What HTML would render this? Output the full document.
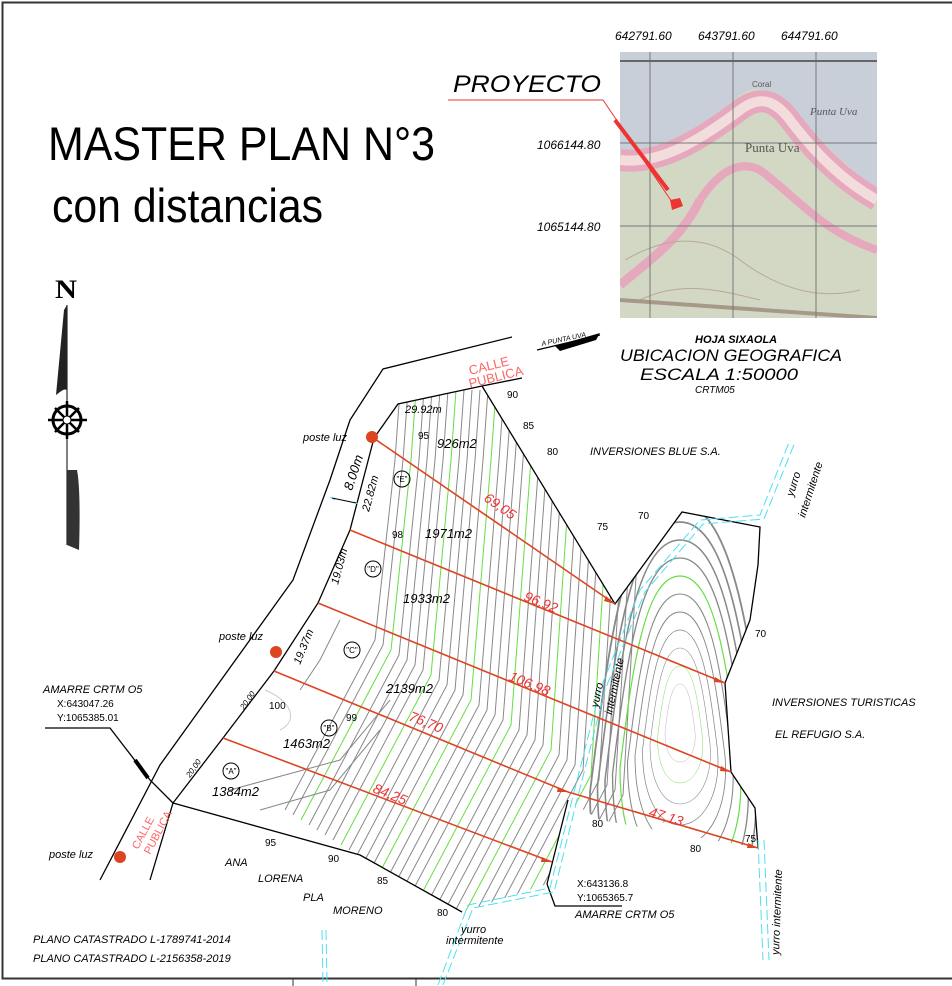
<!DOCTYPE html>
<html><head><meta charset="utf-8"><style>
html,body{margin:0;padding:0;background:#fff}
svg{display:block}
text{font-family:"Liberation Sans",sans-serif}
.i{font-style:italic}
</style></head><body>
<svg width="952" height="986" viewBox="0 0 952 986" xmlns="http://www.w3.org/2000/svg">
<defs>
<clipPath id="prop"><polygon points="374,438 398,404 482,386 615,604 682,512 760,527 758,565 750,620 725,683 731,772 755,808 758,848 600,820 568,800 547,884 462,912 437,898 360,855 173,803 223,738 274,671 318,603 350,530"/></clipPath>
<clipPath id="mapc"><rect x="620" y="52" width="257" height="266"/></clipPath>
<path id="td" d="M0,-120 C30,-120 40,-40 50,40 C55,100 30,140 0,140 C-30,140 -50,100 -50,40 C-40,-40 -30,-120 0,-120Z" fill="none"/>
</defs>
<rect x="2.5" y="2.5" width="960" height="976" fill="none" stroke="#333" stroke-width="2"/>
<line x1="293" y1="979" x2="293" y2="986" stroke="#333"/>
<line x1="416" y1="979" x2="416" y2="986" stroke="#333"/>

<text x="48" y="160" font-size="47" textLength="387" lengthAdjust="spacingAndGlyphs">MASTER PLAN N°3</text>
<text x="52" y="222" font-size="47" textLength="271" lengthAdjust="spacingAndGlyphs">con distancias</text>

<text x="55" y="298" style="font-family:'Liberation Serif',serif" font-weight="bold" font-size="26" textLength="22" lengthAdjust="spacingAndGlyphs">N</text>
<line x1="67" y1="305" x2="67" y2="545" stroke="#000" stroke-width="1"/>
<path d="M67,305 L67,390 C64,388 60,392 56,395 L64,310Z" fill="#222"/>
<path d="M67,470 L67,545 L79,550 C80,520 80,485 77,470Z" fill="#333"/>
<circle cx="67" cy="420" r="14" fill="none" stroke="#000" stroke-width="3"/>
<path d="M48,420 H87 M67,401 V439 M55,408 L79,432 M79,408 L55,432" stroke="#000" stroke-width="2.5"/>
<circle cx="67" cy="420" r="4" fill="#fff" stroke="#000"/>

<g clip-path="url(#mapc)">
<rect x="620" y="52" width="257" height="266" fill="#d3d8c4"/>
<path d="M620,52 H877 V190 C840,160 800,120 780,100 C770,90 755,85 745,92 C720,110 700,130 680,140 C660,150 640,150 620,150Z" fill="#c9cfd8"/>
<path d="M620,160 C660,165 700,140 740,110 C760,95 775,100 790,120 C820,160 850,185 877,200" fill="none" stroke="#e6a8bc" stroke-width="22"/>
<path d="M620,160 C660,165 700,140 740,110 C760,95 775,100 790,120 C820,160 850,185 877,200" fill="none" stroke="#f2dcdc" stroke-width="10"/>
<path d="M700,200 C720,170 740,160 760,170 C800,200 820,230 877,250" fill="none" stroke="#e6a8bc" stroke-width="8"/>
<path d="M700,200 C680,240 650,260 620,285" fill="none" stroke="#e6a8bc" stroke-width="9"/>
<path d="M625,260 C660,240 700,230 740,260 C780,290 820,300 860,290 M640,300 C680,280 720,290 760,300" fill="none" stroke="#b8a898" stroke-width="1"/>
<path d="M620,300 L877,318" stroke="#8a7060" stroke-width="4" opacity="0.6"/>
<g stroke="#777" stroke-width="1">
<line x1="650" y1="52" x2="650" y2="318"/><line x1="733" y1="52" x2="733" y2="318"/><line x1="816" y1="52" x2="816" y2="318"/>
<line x1="620" y1="143" x2="877" y2="143"/><line x1="620" y1="226" x2="877" y2="226"/>
</g>
<line x1="620" y1="61" x2="877" y2="61" stroke="#666" stroke-width="2"/>
<text x="745" y="152" style="font-family:'Liberation Serif',serif" font-size="13" fill="#555">Punta Uva</text>
<text x="810" y="115" style="font-family:'Liberation Serif',serif" font-size="11" fill="#555" class="i">Punta Uva</text>
<text x="752" y="87" font-size="8" fill="#555">Coral</text>
</g>
<text x="615" y="40" font-size="12" class="i">642791.60</text>
<text x="698" y="40" font-size="12" class="i">643791.60</text>
<text x="781" y="40" font-size="12" class="i">644791.60</text>
<text x="537" y="149" font-size="12" class="i">1066144.80</text>
<text x="537" y="231" font-size="12" class="i">1065144.80</text>
<text x="453" y="92" font-size="24" class="i" textLength="148" lengthAdjust="spacingAndGlyphs">PROYECTO</text>
<polyline points="448,100 603,100 672,202" fill="none" stroke="#e33" stroke-width="1"/>
<line x1="615" y1="120" x2="668" y2="190" stroke="#e33" stroke-width="4"/>
<path d="M670,200 L680,198 L683,206 L672,210Z" fill="#e33"/>
<text x="695" y="343" font-size="11" class="i" font-weight="bold">HOJA SIXAOLA</text>
<text x="620" y="361" font-size="17" class="i" textLength="222" lengthAdjust="spacingAndGlyphs">UBICACION GEOGRAFICA</text>
<text x="640" y="380" font-size="17" class="i" textLength="158" lengthAdjust="spacingAndGlyphs">ESCALA 1:50000</text>
<text x="695" y="393" font-size="10" class="i">CRTM05</text>

<g clip-path="url(#prop)" stroke="#888" stroke-width="1" fill="none">
<path d="M400,390 L395,460 L375,640 L285,810"/>
<path d="M408,390 L403,460 L383,645 L293,815"/>
<path d="M416,390 L411,460 L391,650 L301,820" stroke="#6d4"/>
<path d="M424,390 L419,460 L399,655 L309,825"/>
<path d="M432,390 L427,460 L407,660 L317,830"/>
<path d="M440,390 L435,460 L415,665 L325,835"/>
<path d="M448,390 L443,460 L423,670 L333,840"/>
<path d="M456,390 L451,460 L431,675 L341,845" stroke="#6d4"/>
<path d="M464,390 L459,460 L439,680 L349,850"/>
<path d="M472,390 L467,460 L447,685 L357,855"/>
<path d="M480,390 L475,460 L455,690 L365,860"/>
<path d="M488,390 L483,460 L463,695 L373,865"/>
<path d="M496,390 L491,460 L471,700 L381,870" stroke="#6d4"/>
<path d="M504,390 L499,460 L479,705 L389,875"/>
<path d="M512,390 L507,460 L487,710 L397,880"/>
<path d="M520,390 L515,460 L495,715 L405,885"/>
<path d="M528,390 L523,460 L503,720 L413,890"/>
<path d="M536,390 L531,460 L511,725 L421,895" stroke="#6d4"/>
<path d="M544,390 L539,460 L519,730 L429,900"/>
<path d="M552,390 L547,460 L527,735 L437,905"/>
<path d="M560,390 L555,460 L535,740 L445,910"/>
<path d="M568,390 L563,460 L543,745 L453,915"/>
<path d="M576,390 L571,460 L551,750 L461,920" stroke="#6d4"/>
<path d="M584,390 L579,460 L559,755 L469,925"/>
<path d="M592,390 L587,460 L567,760 L477,930"/>
<path d="M600,390 L595,460 L575,765 L485,935"/>
<path d="M608,390 L603,460 L583,770 L493,940"/>
<path d="M616,390 L611,460 L591,775 L501,945" stroke="#6d4"/>
<path d="M624,390 L619,460 L599,780 L509,950"/>
<path d="M632,390 L627,460 L607,785 L517,955"/>
<path d="M640,390 L635,460 L615,790 L525,960"/>
<path d="M648,390 L643,460 L623,795 L533,965"/>
<path d="M390,700 L340,760 L230,790"/>
<path d="M380,730 L330,790 L260,810"/>
<path d="M340,620 L320,660 L300,690"/>
<g transform="translate(680,720)">
<use href="#td" transform="scale(0.3)"/>
<use href="#td" transform="scale(0.45)" stroke="#6d4"/>
<use href="#td" transform="scale(0.6)"/>
<use href="#td" transform="scale(0.75)"/>
<use href="#td" transform="scale(0.9)"/>
<use href="#td" transform="scale(1.05)"/>
<use href="#td" transform="scale(1.2)" stroke="#6d4"/>
<use href="#td" transform="scale(1.35)"/>
<use href="#td" transform="scale(1.5)"/>
<use href="#td" transform="scale(1.65)"/>
<use href="#td" transform="scale(1.8)"/>
</g>
<path d="M265,690 C290,700 300,720 280,730" stroke="#ccc"/>
</g>

<g fill="none" stroke="#000" stroke-width="1.3">
<polyline points="512,337 383,369 350,420 330,480 293,580 160,765 100,880"/>
<polyline points="522,378 482,386 398,404 374,438 350,530 318,603 274,671 223,738 173,803 150,880"/>
<polyline points="482,386 615,604 682,512 760,527 758,565 750,620 725,683 731,772 755,808 758,848"/>
<polyline points="173,803 360,855 437,898 462,912"/>
<polyline points="547,884 568,800"/>
<polyline points="547,884 555,906 622,906"/>
<polyline points="45,728 110,728 150,780 173,803"/>
<line x1="135" y1="760" x2="148" y2="778" stroke-width="4"/>
<polyline points="537,350 600,335"/>
</g>
<path d="M555,346 L600,333 L596,340 L560,351Z" fill="#000"/>
<text x="542" y="346" font-size="7" class="i" transform="rotate(-12 542 346)">A PUNTA UVA</text>

<g fill="none" stroke="#4de0f0" stroke-width="1" stroke-dasharray="10,4">
<polyline points="438,985 468,905 550,888 572,800 600,690 640,590 700,520 760,515 790,440"/>
<polyline points="443,985 473,908 554,892 577,800 605,690 645,592 703,524 764,519 795,442"/>
<line x1="758" y1="840" x2="763" y2="960"/><line x1="764" y1="840" x2="769" y2="960"/>
<line x1="322" y1="930" x2="323" y2="985"/><line x1="326" y1="930" x2="327" y2="985"/>
<line x1="330" y1="497" x2="335" y2="500"/><line x1="354" y1="502" x2="358" y2="504"/>
</g>
<line x1="332" y1="498" x2="356" y2="503" stroke="#000"/>

<g stroke="#d42" stroke-width="1.6">
<line x1="372" y1="437" x2="615" y2="604"/>
<line x1="350" y1="530" x2="725" y2="683"/>
<line x1="318" y1="603" x2="731" y2="772"/>
<line x1="274" y1="671" x2="568" y2="792"/>
<line x1="568" y1="792" x2="758" y2="848"/>
<line x1="223" y1="738" x2="552" y2="862"/>
</g>
<g fill="#d42">
<circle cx="372" cy="437" r="6"/><circle cx="276" cy="652" r="6"/><circle cx="120" cy="857" r="6"/>
<path d="M615,604 l-9,-8 l-2,5Z M725,683 l-10,-6 l-1,5Z M731,772 l-10,-6 l-1,5Z M758,848 l-10,-5 l-1,5Z M552,862 l-10,-5 l-1,5Z M568,792 l-10,-5 l-1,5Z"/>
</g>
<g fill="#e33" class="i" font-size="14">
<text x="483" y="500" transform="rotate(35 483 500)">69,05</text>
<text x="523" y="600" transform="rotate(22 523 600)">96,92</text>
<text x="508" y="680" transform="rotate(22 508 680)">106,98</text>
<text x="408" y="720" transform="rotate(22 408 720)">76,70</text>
<text x="372" y="792" transform="rotate(22 372 792)">84,25</text>
<text x="648" y="816" transform="rotate(17 648 816)">47,13</text>
</g>
<text x="470" y="375" font-size="13" fill="#f66" transform="rotate(-14 470 375)">CALLE</text>
<text x="470" y="388" font-size="13" fill="#f66" transform="rotate(-14 470 388)">PUBLICA</text>
<text x="138" y="850" font-size="11" fill="#f66" transform="rotate(-62 138 850)">CALLE</text>
<text x="150" y="855" font-size="11" fill="#f66" transform="rotate(-62 150 855)">PUBLICA</text>

<g font-size="11" class="i">
<text x="303" y="441">poste  luz</text>
<text x="219" y="640">poste  luz</text>
<text x="49" y="858">poste  luz</text>
<text x="405" y="413">29.92m</text>
<text x="437" y="448" font-size="13">926m2</text>
<text x="425" y="538" font-size="13">1971m2</text>
<text x="403" y="603" font-size="13">1933m2</text>
<text x="386" y="693" font-size="13">2139m2</text>
<text x="283" y="748" font-size="13">1463m2</text>
<text x="212" y="796" font-size="13">1384m2</text>
<text x="352" y="491" font-size="13" transform="rotate(-72 352 491)">8.00m</text>
<text x="369" y="512" transform="rotate(-75 369 512)">22.82m</text>
<text x="338" y="585" transform="rotate(-75 338 585)">19.03m</text>
<text x="300" y="665" transform="rotate(-68 300 665)">19.37m</text>
<text x="244" y="710" font-size="8" transform="rotate(-55 244 710)">20,00</text>
<text x="190" y="778" font-size="8" transform="rotate(-55 190 778)">20,00</text>
<text x="590" y="455">INVERSIONES  BLUE  S.A.</text>
<text x="772" y="706">INVERSIONES  TURISTICAS</text>
<text x="775" y="738">EL  REFUGIO  S.A.</text>
<text x="43" y="693">AMARRE  CRTM  O5</text>
<text x="575" y="918">AMARRE  CRTM  O5</text>
<text x="225" y="866">ANA</text><text x="258" y="882">LORENA</text>
<text x="303" y="901">PLA</text><text x="333" y="914">MORENO</text>
<text x="33" y="943">PLANO  CATASTRADO  L-1789741-2014</text>
<text x="33" y="962">PLANO  CATASTRADO  L-2156358-2019</text>
<text x="461" y="933">yurro</text><text x="446" y="944">intermitente</text>
<text x="598" y="708" transform="rotate(-78 598 708)">yurro</text>
<text x="612" y="715" transform="rotate(-78 612 715)">intermitente</text>
<text x="793" y="497" transform="rotate(-72 793 497)">yurro</text>
<text x="805" y="518" transform="rotate(-72 805 518)">intermitente</text>
<text x="779" y="955" transform="rotate(-88 779 955)">yurro  intermitente</text>
</g>
<g font-size="10">
<text x="57" y="707">X:643047.26</text><text x="57" y="721">Y:1065385.01</text>
<text x="577" y="887">X:643136.8</text><text x="577" y="901">Y:1065365.7</text>
<text x="507" y="398">90</text><text x="523" y="429">85</text><text x="547" y="455">80</text>
<text x="597" y="530">75</text><text x="638" y="519">70</text><text x="755" y="637">70</text>
<text x="418" y="439">95</text><text x="392" y="538">98</text><text x="346" y="721">99</text>
<text x="269" y="709">100</text><text x="265" y="846">95</text><text x="328" y="862">90</text>
<text x="377" y="884">85</text><text x="437" y="916">80</text><text x="592" y="827">80</text>
<text x="690" y="852">80</text><text x="745" y="842">75</text>
</g>
<g fill="none" stroke="#000"><circle cx="402" cy="479" r="8"/><circle cx="373" cy="569" r="8"/><circle cx="352" cy="650" r="8"/><circle cx="329" cy="728" r="8"/><circle cx="231" cy="771" r="8"/></g>
<g font-size="8" text-anchor="middle"><text x="402" y="482">"E"</text><text x="373" y="572">"D"</text><text x="352" y="653">"C"</text><text x="329" y="731">"B"</text><text x="231" y="774">"A"</text></g>
</svg>
</body></html>
